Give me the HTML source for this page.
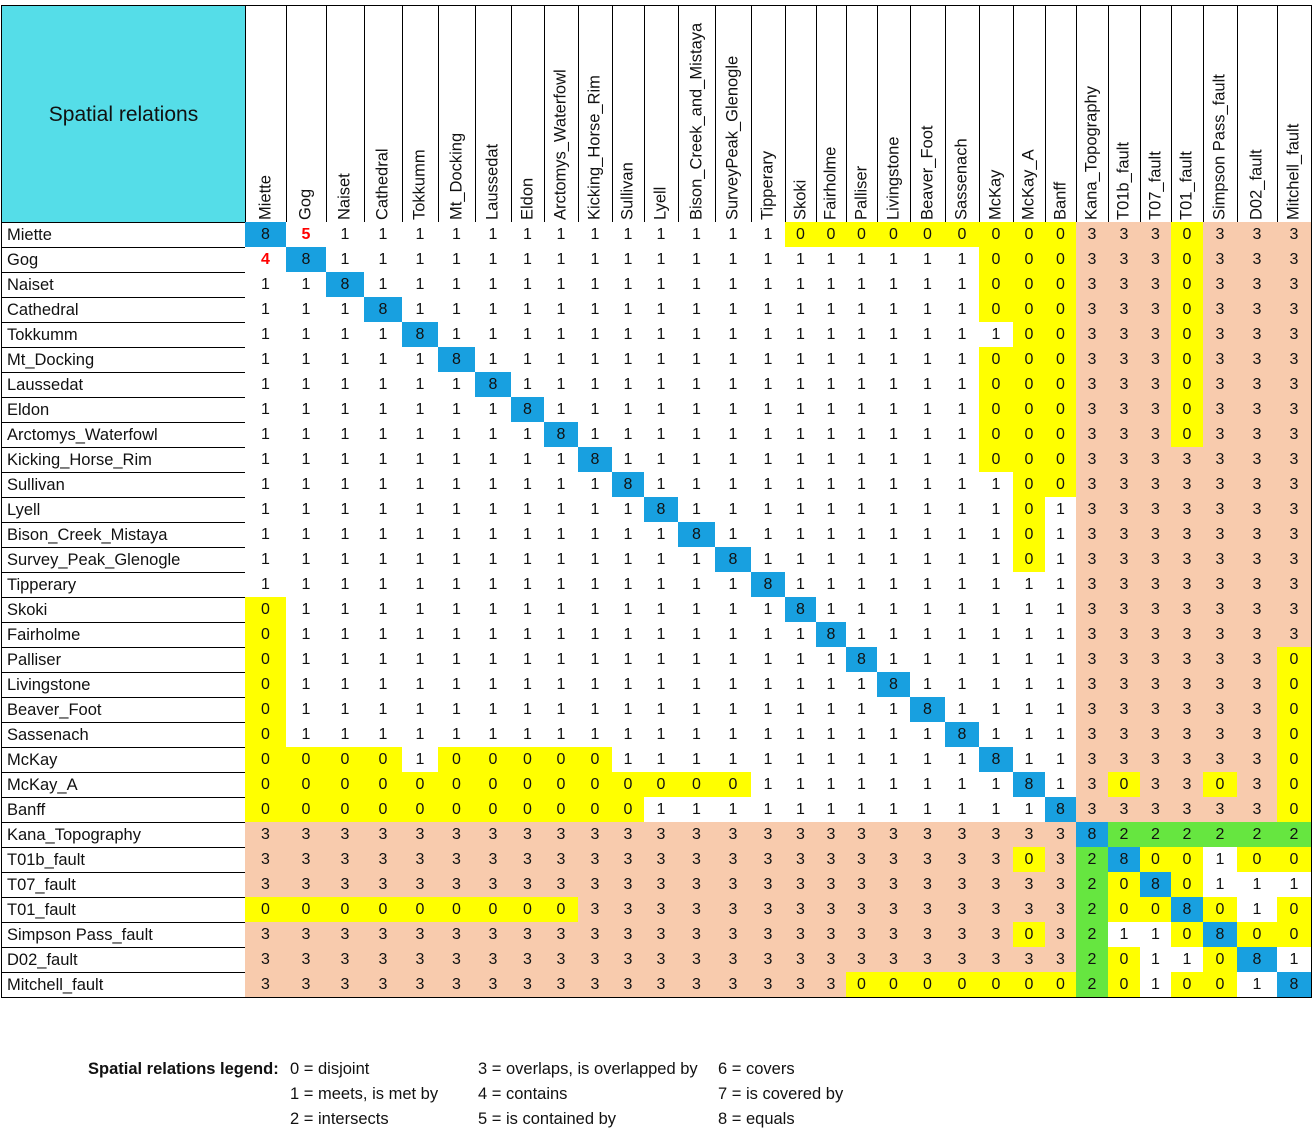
<!DOCTYPE html>
<html><head><meta charset="utf-8"><style>
body{margin:0;background:#fff;width:1312px;height:1136px;overflow:hidden;position:relative;font-family:"Liberation Sans",Arial,sans-serif;}
.c{position:absolute;box-sizing:border-box;border-right:1px solid #000;border-bottom:1px solid #000;text-align:center;font-size:16px;color:#111;}
.lbl{position:absolute;box-sizing:border-box;border-bottom:1px solid #000;border-right:1px solid #000;border-left:1px solid #000;font-size:16.5px;padding-left:5px;color:#111;}
.hd{position:absolute;box-sizing:border-box;border-right:1px solid #000;border-top:1px solid #000;border-bottom:1px solid #000;overflow:hidden;}
.hd span{position:absolute;left:50%;top:214px;transform-origin:0 0;transform:rotate(-90deg) translate(0,-50%);white-space:nowrap;font-size:16.5px;color:#111;line-height:19px;}
.lg{position:absolute;font-size:16.5px;color:#111;white-space:nowrap;}
</style></head><body>
<div style="position:absolute;left:1px;top:5px;width:245px;height:218px;box-sizing:border-box;border:1px solid #000;background:#55dde8;font-size:21px;color:#111;text-align:center;line-height:218px;">Spatial relations</div>
<div id="grid"></div>
<div>
<div class="lg" style="left:88px;top:1060px;font-weight:bold;">Spatial relations legend:</div>
<div class="lg" style="left:290px;top:1060px;">0 = disjoint</div>
<div class="lg" style="left:290px;top:1085px;">1 = meets, is met by</div>
<div class="lg" style="left:290px;top:1110px;">2 = intersects</div>
<div class="lg" style="left:478px;top:1060px;">3 = overlaps, is overlapped by</div>
<div class="lg" style="left:478px;top:1085px;">4 = contains</div>
<div class="lg" style="left:478px;top:1110px;">5 = is contained by</div>
<div class="lg" style="left:718px;top:1060px;">6 = covers</div>
<div class="lg" style="left:718px;top:1085px;">7 = is covered by</div>
<div class="lg" style="left:718px;top:1110px;">8 = equals</div>
</div>
<script>
const colLabels=["Miette","Gog","Naiset","Cathedral","Tokkumm","Mt_Docking","Laussedat","Eldon","Arctomys_Waterfowl","Kicking_Horse_Rim","Sullivan","Lyell","Bison_Creek_and_Mistaya","SurveyPeak_Glenogle","Tipperary","Skoki","Fairholme","Palliser","Livingstone","Beaver_Foot","Sassenach","McKay","McKay_A","Banff","Kana_Topography","T01b_fault","T07_fault","T01_fault","Simpson Pass_fault","D02_fault","Mitchell_fault"];
const rowLabels=["Miette","Gog","Naiset","Cathedral","Tokkumm","Mt_Docking","Laussedat","Eldon","Arctomys_Waterfowl","Kicking_Horse_Rim","Sullivan","Lyell","Bison_Creek_Mistaya","Survey_Peak_Glenogle","Tipperary","Skoki","Fairholme","Palliser","Livingstone","Beaver_Foot","Sassenach","McKay","McKay_A","Banff","Kana_Topography","T01b_fault","T07_fault","T01_fault","Simpson Pass_fault","D02_fault","Mitchell_fault"];
const values=[
[8,5,1,1,1,1,1,1,1,1,1,1,1,1,1, 0,0,0,0,0,0, 0,0,0, 3,3,3,0,3,3,3],
[4,8,1,1,1,1,1,1,1,1,1,1,1,1,1, 1,1,1,1,1,1, 0,0,0, 3,3,3,0,3,3,3],
[1,1,8,1,1,1,1,1,1,1,1,1,1,1,1, 1,1,1,1,1,1, 0,0,0, 3,3,3,0,3,3,3],
[1,1,1,8,1,1,1,1,1,1,1,1,1,1,1, 1,1,1,1,1,1, 0,0,0, 3,3,3,0,3,3,3],
[1,1,1,1,8,1,1,1,1,1,1,1,1,1,1, 1,1,1,1,1,1, 1,0,0, 3,3,3,0,3,3,3],
[1,1,1,1,1,8,1,1,1,1,1,1,1,1,1, 1,1,1,1,1,1, 0,0,0, 3,3,3,0,3,3,3],
[1,1,1,1,1,1,8,1,1,1,1,1,1,1,1, 1,1,1,1,1,1, 0,0,0, 3,3,3,0,3,3,3],
[1,1,1,1,1,1,1,8,1,1,1,1,1,1,1, 1,1,1,1,1,1, 0,0,0, 3,3,3,0,3,3,3],
[1,1,1,1,1,1,1,1,8,1,1,1,1,1,1, 1,1,1,1,1,1, 0,0,0, 3,3,3,0,3,3,3],
[1,1,1,1,1,1,1,1,1,8,1,1,1,1,1, 1,1,1,1,1,1, 0,0,0, 3,3,3,3,3,3,3],
[1,1,1,1,1,1,1,1,1,1,8,1,1,1,1, 1,1,1,1,1,1, 1,0,0, 3,3,3,3,3,3,3],
[1,1,1,1,1,1,1,1,1,1,1,8,1,1,1, 1,1,1,1,1,1, 1,0,1, 3,3,3,3,3,3,3],
[1,1,1,1,1,1,1,1,1,1,1,1,8,1,1, 1,1,1,1,1,1, 1,0,1, 3,3,3,3,3,3,3],
[1,1,1,1,1,1,1,1,1,1,1,1,1,8,1, 1,1,1,1,1,1, 1,0,1, 3,3,3,3,3,3,3],
[1,1,1,1,1,1,1,1,1,1,1,1,1,1,8, 1,1,1,1,1,1, 1,1,1, 3,3,3,3,3,3,3],
[0,1,1,1,1,1,1,1,1,1,1,1,1,1,1, 8,1,1,1,1,1, 1,1,1, 3,3,3,3,3,3,3],
[0,1,1,1,1,1,1,1,1,1,1,1,1,1,1, 1,8,1,1,1,1, 1,1,1, 3,3,3,3,3,3,3],
[0,1,1,1,1,1,1,1,1,1,1,1,1,1,1, 1,1,8,1,1,1, 1,1,1, 3,3,3,3,3,3,0],
[0,1,1,1,1,1,1,1,1,1,1,1,1,1,1, 1,1,1,8,1,1, 1,1,1, 3,3,3,3,3,3,0],
[0,1,1,1,1,1,1,1,1,1,1,1,1,1,1, 1,1,1,1,8,1, 1,1,1, 3,3,3,3,3,3,0],
[0,1,1,1,1,1,1,1,1,1,1,1,1,1,1, 1,1,1,1,1,8, 1,1,1, 3,3,3,3,3,3,0],
[0,0,0,0,1,0,0,0,0,0,1,1,1,1,1, 1,1,1,1,1,1, 8,1,1, 3,3,3,3,3,3,0],
[0,0,0,0,0,0,0,0,0,0,0,0,0,0,1, 1,1,1,1,1,1, 1,8,1, 3,0,3,3,0,3,0],
[0,0,0,0,0,0,0,0,0,0,0,1,1,1,1, 1,1,1,1,1,1, 1,1,8, 3,3,3,3,3,3,0],
[3,3,3,3,3,3,3,3,3,3,3,3,3,3,3, 3,3,3,3,3,3, 3,3,3, 8,2,2,2,2,2,2],
[3,3,3,3,3,3,3,3,3,3,3,3,3,3,3, 3,3,3,3,3,3, 3,0,3, 2,8,0,0,1,0,0],
[3,3,3,3,3,3,3,3,3,3,3,3,3,3,3, 3,3,3,3,3,3, 3,3,3, 2,0,8,0,1,1,1],
[0,0,0,0,0,0,0,0,0,3,3,3,3,3,3, 3,3,3,3,3,3, 3,3,3, 2,0,0,8,0,1,0],
[3,3,3,3,3,3,3,3,3,3,3,3,3,3,3, 3,3,3,3,3,3, 3,0,3, 2,1,1,0,8,0,0],
[3,3,3,3,3,3,3,3,3,3,3,3,3,3,3, 3,3,3,3,3,3, 3,3,3, 2,0,1,1,0,8,1],
[3,3,3,3,3,3,3,3,3,3,3,3,3,3,3, 3,3,0,0,0,0, 0,0,0, 2,0,1,0,0,1,8]
];
// layout (not data)
const colEdges=[245,286,326,364,402,438,475,511,544,578,612,644,678,715,751,785,816,846,877,910,945,979,1013,1045,1076,1108,1140,1171,1203,1237,1277,1311];
const ROW_TOP=222, ROW_H=25;
const fills={0:"#ffff00",1:"#ffffff",2:"#66e640",3:"#f8cbad",4:"#ffffff",5:"#ffffff",8:"#18a0e0"};
const grid=document.getElementById('grid');
function xPos(j){return colEdges[j];}
function yPos(i){return ROW_TOP+i*ROW_H;}
colLabels.forEach((name,j)=>{
  const h=document.createElement('div');
  h.className='hd';
  
  
  h.style.left=xPos(j)+'px';h.style.top='5px';
  h.style.width=(xPos(j+1)-xPos(j)+1)+'px';h.style.height=(ROW_TOP-5+1)+'px';
  const s=document.createElement('span');s.textContent=name;h.appendChild(s);
  grid.appendChild(h);
});
rowLabels.forEach((name,i)=>{
  const l=document.createElement('div');
  l.className='lbl';
  
  
  l.style.left='1px';l.style.top=yPos(i)+'px';
  l.style.width='245px';l.style.height=(ROW_H+1)+'px';
  l.style.lineHeight=(ROW_H+1)+'px';
  l.textContent=name;
  grid.appendChild(l);
  values[i].forEach((v,j)=>{
    const c=document.createElement('div');
    c.className='c';
    
    
    c.style.left=xPos(j)+'px';c.style.top=yPos(i)+'px';
    c.style.width=(xPos(j+1)-xPos(j)+1)+'px';c.style.height=(ROW_H+1)+'px';
    c.style.lineHeight=(ROW_H+1)+'px';
    c.style.background=fills[v]||'#fff';
    if(v===4||v===5){c.style.color='#ff0000';c.style.fontWeight='bold';}
    c.textContent=v;
    grid.appendChild(c);
  });
});
</script>
</body></html>
